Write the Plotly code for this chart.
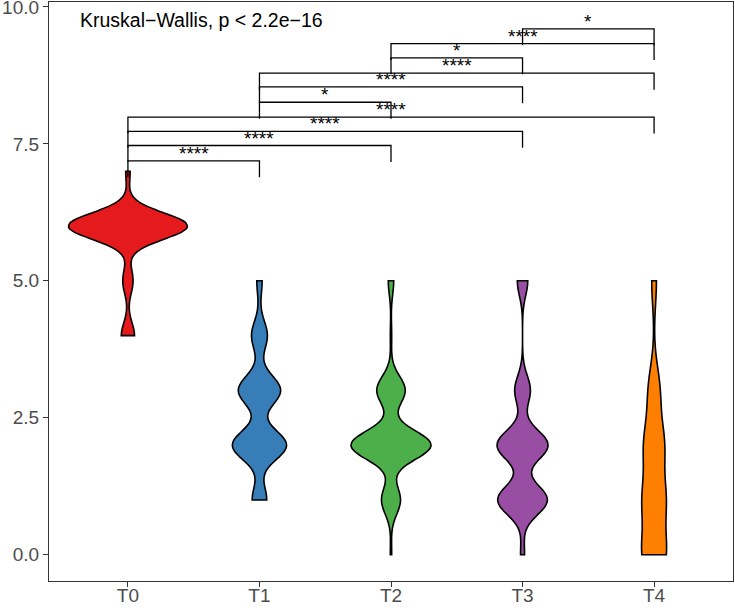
import numpy as np
import plotly.graph_objects as go

groups = ["T0", "T1", "T2", "T3", "T4"]
scores = [0, 1, 2, 3, 4, 5, 6, 7]
# number of observations at each score, per time point
counts_T0 = [0, 0, 0, 0, 9, 7, 81, 3]
counts_T1 = [0, 11, 41, 32, 12, 4, 0, 0]
counts_T2 = [1, 14, 59, 21, 1, 4, 0, 0]
counts_T3 = [3, 38, 39, 12, 0, 8, 0, 0]
counts_T4 = [29, 27, 24, 14, 0, 6, 0, 0]
all_counts = [counts_T0, counts_T1, counts_T2, counts_T3, counts_T4]
bandwidths = [0.24, 0.267, 0.26, 0.27, 0.45]
colors = ["#E41A1C", "#377EB8", "#4DAF4A", "#984EA3", "#FF7F00"]

comparisons = [("T0", "T1"), ("T0", "T2"), ("T0", "T3"), ("T0", "T4"),
               ("T1", "T2"), ("T1", "T3"), ("T1", "T4"),
               ("T2", "T3"), ("T2", "T4"), ("T3", "T4")]
bracket_y = [7.19, 7.47, 7.73, 7.99, 8.26, 8.54, 8.79, 9.07, 9.33, 9.60]
signif = ["****", "****", "****", "****", "*", "****", "****", "*", "****", "*"]
global_label = "Kruskal\u2212Wallis, p < 2.2e\u221216"
tip = 0.3
max_width = 0.9


def kde_peak(vals, bw):
    # peak of the gaussian density on the same grid plotly evaluates (hard span)
    lo, hi = vals.min(), vals.max()
    n = int(np.ceil((hi - lo) / (bw / 3)))
    t = np.linspace(lo, hi, n + 1)
    z = (t[:, None] - vals[None, :]) / bw
    d = np.exp(-0.5 * z ** 2).sum(axis=1) / (len(vals) * bw * np.sqrt(2 * np.pi))
    return d.max()


samples = [np.repeat(scores, c).astype(float) for c in all_counts]
peaks = np.array([kde_peak(v, bw) for v, bw in zip(samples, bandwidths)])
# equal-area scaling (as ggplot's scale = "area")
widths = max_width * peaks / peaks.max()

fig = go.Figure()
for i, g in enumerate(groups):
    vals = samples[i]
    fig.add_trace(go.Violin(
        x=np.full(len(vals), i, dtype=float), y=vals, name=g,
        spanmode="hard", bandwidth=bandwidths[i],
        scalemode="width", width=float(widths[i]),
        points=False, box_visible=False, meanline_visible=False,
        fillcolor=colors[i], opacity=1,
        line=dict(color="black", width=1.6),
        showlegend=False, hoverinfo="skip",
    ))

bx, by = [], []
for (a, b), yv in zip(comparisons, bracket_y):
    ia, ib = groups.index(a), groups.index(b)
    bx += [ia, ia, ib, ib, None]
    by += [yv - tip, yv, yv, yv - tip, None]
fig.add_trace(go.Scatter(x=bx, y=by, mode="lines",
                         line=dict(color="black", width=1.3),
                         showlegend=False, hoverinfo="skip"))

annotations = []
for (a, b), yv, lab in zip(comparisons, bracket_y, signif):
    ia, ib = groups.index(a), groups.index(b)
    annotations.append(dict(x=(ia + ib) / 2, y=yv, text=lab, showarrow=False,
                            xanchor="center", yanchor="bottom", yshift=-5,
                            font=dict(family="Liberation Sans, Arial", size=19, color="black")))
annotations.append(dict(x=-0.383, y=9.76, text=global_label, showarrow=False,
                        xanchor="left", yanchor="middle",
                        font=dict(family="Liberation Sans, Arial", size=19.5, color="black")))

fig.update_layout(
    width=735, height=608,
    margin=dict(l=49, r=2, t=2, b=27),
    paper_bgcolor="white", plot_bgcolor="white",
    violinmode="overlay",
    annotations=annotations,
    font=dict(family="Liberation Sans, Arial"),
)
axis_style = dict(showgrid=False, zeroline=False, showline=True, mirror=True,
                  linecolor="#333333", linewidth=1.3, ticks="outside", ticklen=5,
                  tickwidth=1.2, tickcolor="#333333", automargin=False,
                  ticklabeloverflow="allow",
                  tickfont=dict(size=19, color="#4D4D4D"))
fig.update_xaxes(range=[-0.6, 4.6], tickvals=list(range(len(groups))), ticktext=groups,
                 ticklabelstandoff=-8, **axis_style)
fig.update_yaxes(range=[-0.48, 10.09], tickvals=[0, 2.5, 5, 7.5, 10],
                 ticktext=["0.0", "2.5", "5.0", "7.5", "10.0"], **axis_style)

fig.write_html("out.html", config={"displayModeBar": False},
               post_script="document.body.style.margin='0px';")
